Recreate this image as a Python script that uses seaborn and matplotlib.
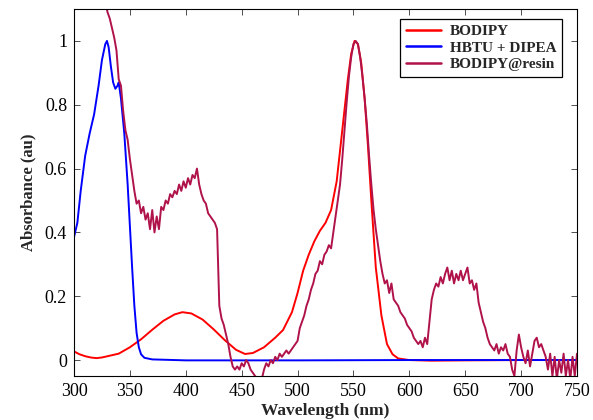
import numpy as np
import pandas as pd
import matplotlib
matplotlib.use("Agg")
import matplotlib.pyplot as plt
import seaborn as sns

# BODIPY (red)
bod_wl = [300, 305, 310, 315, 320, 325, 330, 340, 350, 360, 370, 380, 390, 397, 405, 415,
          425, 435, 445, 453, 460, 470, 480, 487, 495, 500, 505, 510, 515, 520, 525, 530,
          535, 540, 545, 548, 551, 554, 557, 560, 563, 566, 570, 575, 580, 585, 590, 600,
          620, 650, 700, 750]
bod_abs = [0.027, 0.018, 0.012, 0.008, 0.006, 0.008, 0.012, 0.020, 0.040, 0.065, 0.095, 0.123,
           0.143, 0.150, 0.146, 0.127, 0.096, 0.062, 0.032, 0.019, 0.022, 0.040, 0.070, 0.094,
           0.150, 0.210, 0.280, 0.330, 0.372, 0.405, 0.430, 0.470, 0.560, 0.720, 0.880, 0.960,
           1.000, 0.990, 0.930, 0.820, 0.670, 0.500, 0.290, 0.140, 0.050, 0.018, 0.005, 0.000,
           -0.002, -0.001, 0.000, 0.000]

# HBTU + DIPEA (blue)
hbtu_wl = [300, 303, 306, 310, 314, 318, 322, 325, 328, 329.5, 331, 333, 335, 337, 339, 340,
           342, 345, 348, 350, 352, 354, 356, 358, 360, 363, 370, 400, 500, 600, 750]
hbtu_abs = [0.385, 0.43, 0.53, 0.64, 0.71, 0.77, 0.86, 0.94, 0.99, 1.0, 0.98, 0.92, 0.87,
            0.85, 0.86, 0.87, 0.82, 0.71, 0.55, 0.42, 0.29, 0.17, 0.085, 0.04, 0.018, 0.007,
            0.002, -0.001, -0.001, 0.0, 0.0]

# BODIPY@resin (crimson)
resin_wl = list(range(328, 752, 2))
resin_abs = [1.12, 1.09, 1.07, 1.04, 1.01, 0.97, 0.88, 0.86, 0.78, 0.72,
             0.69, 0.63, 0.58, 0.53, 0.49, 0.50, 0.46, 0.48, 0.44, 0.46,
             0.41, 0.47, 0.40, 0.45, 0.41, 0.48, 0.47, 0.50, 0.49, 0.52,
             0.51, 0.53, 0.52, 0.55, 0.53, 0.56, 0.54, 0.57, 0.55, 0.58,
             0.57, 0.60, 0.55, 0.52, 0.50, 0.49, 0.46, 0.45, 0.44, 0.43,
             0.41, 0.17, 0.13, 0.11, 0.08, 0.05, 0.01, -0.02, -0.03, -0.02,
             -0.03, -0.01, -0.02, 0.00, -0.01, -0.03, -0.04, -0.05, -0.06, -0.07,
             -0.06, -0.03, -0.01, -0.02, 0.00, -0.01, 0.01, 0.00, 0.02, 0.01,
             0.02, 0.03, 0.02, 0.03, 0.04, 0.05, 0.06, 0.10, 0.12, 0.14,
             0.17, 0.19, 0.22, 0.24, 0.27, 0.28, 0.31, 0.30, 0.33, 0.34,
             0.36, 0.35, 0.40, 0.45, 0.50, 0.55, 0.63, 0.72, 0.81, 0.89,
             0.95, 0.99, 1.00, 0.99, 0.95, 0.89, 0.82, 0.74, 0.64, 0.55,
             0.47, 0.41, 0.36, 0.31, 0.27, 0.24, 0.25, 0.21, 0.24, 0.19,
             0.18, 0.17, 0.15, 0.14, 0.13, 0.11, 0.10, 0.09, 0.07, 0.06,
             0.05, 0.06, 0.04, 0.07, 0.05, 0.12, 0.19, 0.22, 0.24, 0.23,
             0.26, 0.24, 0.27, 0.29, 0.25, 0.28, 0.24, 0.27, 0.25, 0.28,
             0.25, 0.27, 0.29, 0.24, 0.25, 0.22, 0.24, 0.18, 0.15, 0.12,
             0.10, 0.07, 0.05, 0.04, 0.03, 0.05, 0.02, 0.04, 0.03, 0.05,
             0.02, 0.01, -0.03, -0.05, 0.03, 0.08, 0.04, 0.01, -0.01, 0.03,
             -0.02, 0.02, 0.06, 0.07, 0.04, 0.05, 0.03, 0.01, -0.03, 0.02,
             -0.05, 0.01, -0.06, 0.00, -0.04, 0.02, -0.05, 0.00, -0.06, 0.01,
             -0.05, 0.02]

labels = ["BODIPY", "HBTU + DIPEA", "BODIPY@resin"]
colors = ["#ff0000", "#0000ff", "#b0124a"]

df = pd.concat([
    pd.DataFrame({"wl": bod_wl, "abs": bod_abs, "series": labels[0]}),
    pd.DataFrame({"wl": hbtu_wl, "abs": hbtu_abs, "series": labels[1]}),
    pd.DataFrame({"wl": resin_wl, "abs": resin_abs, "series": labels[2]}),
], ignore_index=True)

sns.set_style("ticks")
plt.rcParams["font.family"] = ["Liberation Serif", "DejaVu Serif"]

fig = plt.figure(figsize=(5.93, 4.2), dpi=100)
ax = fig.add_axes([74/593, 44/420, 503/593, 367/420])

sns.lineplot(data=df, x="wl", y="abs", hue="series", hue_order=labels,
             palette=dict(zip(labels, colors)), sort=False, estimator=None,
             linewidth=1.4, ax=ax)

ax.set_xlim(300, 750)
ax.set_ylim(-0.05, 1.1)
ax.set_xticks(range(300, 751, 50))
ax.set_yticks([0, 0.2, 0.4, 0.6, 0.8, 1.0])
ax.set_yticklabels(["0", "0.2", "0.4", "0.6", "0.8", "1"])
ax.tick_params(direction="in", top=True, right=True, length=4, width=0.6,
               labelsize=13, colors="#333333", labelcolor="black", pad=5)
for s in ax.spines.values():
    s.set_linewidth(0.8)
    s.set_color("black")

ax.set_xlabel("Wavelength (nm)", fontsize=12.5, fontweight="bold", labelpad=2)
ax.set_ylabel("Absorbance (au)", fontsize=12, fontweight="bold", labelpad=6)

leg = ax.legend(loc="upper right", bbox_to_anchor=(0.970, 0.973), borderaxespad=0,
                frameon=True, fancybox=False, edgecolor="black", framealpha=1,
                prop={"weight": "bold", "size": 11}, handlelength=2.3,
                borderpad=0.35, labelspacing=0.2, handletextpad=0.6)
leg.get_frame().set_linewidth(0.9)
for line in leg.get_lines():
    line.set_linewidth(1.8)

fig.savefig("out.png", dpi=100)
